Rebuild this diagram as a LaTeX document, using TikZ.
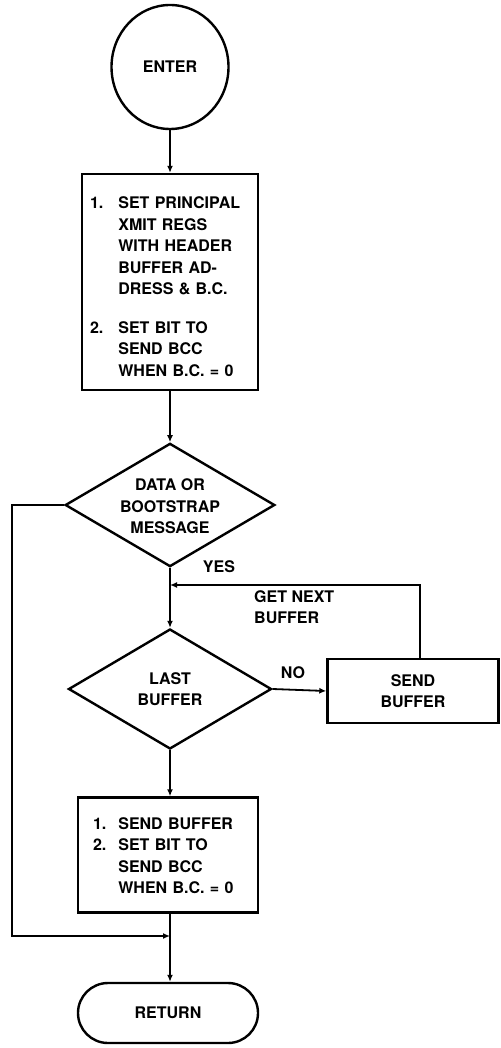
\documentclass[tikz,border=0pt]{standalone}
\usepackage{fontspec}
\setmainfont{TeX Gyre Heros}
\usetikzlibrary{shapes.geometric,arrows.meta}
\begin{document}
\begin{tikzpicture}[x=1pt,y=-1pt,
  every node/.style={font=\fontsize{16}{21.5}\selectfont\bfseries},
  shp/.style={draw,line width=2.4pt},
  boxnode/.style={shp,rectangle,inner ysep=0pt,align=left},
  dec/.style={shp,diamond,aspect=1.7,inner sep=0pt,minimum width=203pt,minimum height=120pt,align=center},
  conn/.style={line width=1.8pt},
  arr/.style={conn,-{Latex[length=7pt,width=6pt]}},
  lbl/.style={inner sep=0pt}
]
\useasboundingbox (0,0) rectangle (500,1048);
\node[shp,ellipse,minimum width=117pt,minimum height=124pt,inner sep=0pt] (enter) at (170,67) {ENTER};
\node[boxnode,minimum width=176pt,minimum height=216pt,text width=160pt,inner xsep=8pt] (b1) at (170,282)
  {\raisebox{-6pt}[\height][\depth]{\begin{tabular}{@{}l@{\hspace{15pt}}l@{}}1.&SET PRINCIPAL\\&XMIT REGS\\&WITH HEADER\\&BUFFER AD-\\&DRESS \& B.C.\\[17pt]2.&SET BIT TO\\&SEND BCC\\&WHEN B.C. = 0\end{tabular}}};
\node[dec] (d1) at (170,505) {\raisebox{-3pt}[\height][\depth]{\begin{tabular}{@{}c@{}}DATA OR\\BOOTSTRAP\\MESSAGE\end{tabular}}};
\node[dec] (d2) at (170,689) {LAST\\BUFFER};
\node[boxnode,align=center,minimum width=171pt,minimum height=64pt] (send) at (413,691) {SEND\\BUFFER};
\node[boxnode,minimum width=180pt,minimum height=115pt,text width=150pt,inner xsep=15pt] (b3) at (168,855)
  {\raisebox{-2pt}[\height][\depth]{\begin{tabular}{@{}l@{\hspace{12pt}}l@{}}1.&SEND BUFFER\\2.&SET BIT TO\\&SEND BCC\\&WHEN B.C. = 0\end{tabular}}};
\node[shp,rectangle,rounded corners=30pt,minimum width=180pt,minimum height=60pt] (ret) at (168,1013) {RETURN};
\node[lbl] (yes) at (219,567) {YES};
\node[lbl] (no) at (293,673) {NO};
\node[lbl,anchor=north west,align=left] (gnb) at (254,590) {GET NEXT\\BUFFER};
\coordinate (j1) at (170,585);
\coordinate (gn) at (420,585);
\coordinate (lc) at (12,936);
\coordinate (j2) at (170,936);
\draw[arr] (enter.south) -- (b1.north);
\draw[arr] (b1.south) -- (d1.north);
\draw[arr] (d1.south) -- (d2.north);
\draw[arr] (d2.east) -- (send.west);
\draw[arr] (send.north -| gn) -- (gn) -- (j1);
\draw[arr] (d2.south) -- (b3.north -| d2.south);
\draw[arr] (b3.south -| d2.south) -- (ret.north -| d2.south);
\draw[arr] (d1.west) -| (lc) -- (j2);
\end{tikzpicture}
\end{document}
